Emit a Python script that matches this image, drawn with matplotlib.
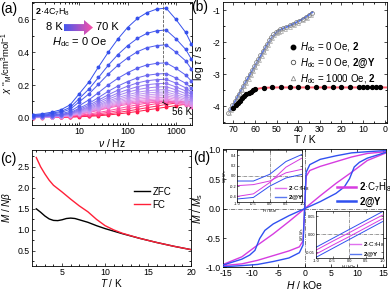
import numpy as np
import matplotlib
matplotlib.use("Agg")
import matplotlib.pyplot as plt
import matplotlib.ticker as mticker
from matplotlib.colors import LinearSegmentedColormap
from matplotlib.patches import Polygon
from matplotlib.lines import Line2D

plt.rcParams['font.family'] = ['Liberation Sans', 'DejaVu Sans']
plt.rcParams['mathtext.fontset'] = 'custom'
plt.rcParams['mathtext.rm'] = 'Liberation Sans'
plt.rcParams['mathtext.it'] = 'Liberation Sans:italic'
plt.rcParams['mathtext.bf'] = 'Liberation Sans:bold'
plt.rcParams['axes.unicode_minus'] = False
plt.rcParams['axes.linewidth'] = 0.6
plt.rcParams['xtick.direction'] = 'in'
plt.rcParams['ytick.direction'] = 'in'
plt.rcParams['xtick.top'] = True
plt.rcParams['ytick.right'] = True
plt.rcParams['xtick.major.size'] = 2.5
plt.rcParams['ytick.major.size'] = 2.5
plt.rcParams['xtick.minor.size'] = 1.5
plt.rcParams['ytick.minor.size'] = 1.5
plt.rcParams['xtick.major.width'] = 0.5
plt.rcParams['ytick.major.width'] = 0.5
plt.rcParams['xtick.labelsize'] = 6.3
plt.rcParams['ytick.labelsize'] = 6.3
plt.rcParams['xtick.major.pad'] = 1.5
plt.rcParams['ytick.major.pad'] = 1.8

# ---- (a) ac out-of-phase susceptibility, 8 K -> 70 K
nu_hz = [1.1, 1.7, 2.7, 4.2, 6.5, 10, 16, 25, 40, 63, 100, 160, 250, 400, 630, 1000, 1600, 2100]
temps_a = [8, 12, 16, 20, 24, 28, 32, 36, 40, 44, 46, 48, 50, 52, 54, 56, 58, 62, 66, 70]
chi_im = [
    [0.020, 0.025, 0.035, 0.050, 0.080, 0.147, 0.220, 0.310, 0.400, 0.480, 0.550, 0.605, 0.640, 0.662, 0.668, 0.600, 0.520, 0.450],
    [0.016, 0.020, 0.028, 0.040, 0.064, 0.118, 0.177, 0.246, 0.321, 0.385, 0.439, 0.484, 0.514, 0.530, 0.535, 0.482, 0.417, 0.358],
    [0.013, 0.016, 0.023, 0.033, 0.053, 0.098, 0.147, 0.205, 0.267, 0.320, 0.365, 0.403, 0.427, 0.440, 0.445, 0.400, 0.347, 0.298],
    [0.010, 0.012, 0.017, 0.025, 0.040, 0.074, 0.111, 0.154, 0.201, 0.241, 0.275, 0.303, 0.322, 0.332, 0.335, 0.302, 0.261, 0.224],
    [0.008, 0.010, 0.014, 0.020, 0.032, 0.059, 0.089, 0.124, 0.162, 0.194, 0.221, 0.244, 0.259, 0.267, 0.270, 0.243, 0.211, 0.181],
    [0.007, 0.009, 0.012, 0.018, 0.028, 0.052, 0.078, 0.108, 0.141, 0.169, 0.193, 0.213, 0.226, 0.233, 0.235, 0.212, 0.183, 0.157],
    [0.006, 0.008, 0.011, 0.016, 0.025, 0.046, 0.069, 0.097, 0.126, 0.151, 0.172, 0.190, 0.202, 0.208, 0.210, 0.189, 0.164, 0.141],
    [0.006, 0.007, 0.010, 0.014, 0.023, 0.042, 0.063, 0.087, 0.114, 0.137, 0.156, 0.172, 0.182, 0.188, 0.190, 0.171, 0.148, 0.127],
    [0.005, 0.006, 0.009, 0.013, 0.021, 0.038, 0.057, 0.079, 0.103, 0.124, 0.141, 0.156, 0.165, 0.170, 0.172, 0.155, 0.134, 0.115],
    [0.005, 0.006, 0.008, 0.012, 0.019, 0.035, 0.052, 0.073, 0.095, 0.114, 0.130, 0.143, 0.152, 0.156, 0.158, 0.142, 0.123, 0.106],
    [0.004, 0.005, 0.008, 0.011, 0.018, 0.032, 0.048, 0.067, 0.088, 0.105, 0.120, 0.132, 0.140, 0.145, 0.146, 0.131, 0.114, 0.098],
    [0.004, 0.005, 0.007, 0.010, 0.016, 0.030, 0.045, 0.062, 0.081, 0.097, 0.111, 0.122, 0.130, 0.134, 0.135, 0.122, 0.105, 0.090],
    [0.004, 0.005, 0.007, 0.009, 0.015, 0.028, 0.041, 0.058, 0.075, 0.090, 0.103, 0.113, 0.120, 0.124, 0.125, 0.113, 0.098, 0.084],
    [0.003, 0.004, 0.006, 0.009, 0.014, 0.026, 0.038, 0.053, 0.070, 0.084, 0.095, 0.105, 0.111, 0.115, 0.116, 0.104, 0.090, 0.078],
    [0.003, 0.004, 0.006, 0.008, 0.013, 0.024, 0.036, 0.050, 0.065, 0.078, 0.089, 0.098, 0.104, 0.107, 0.108, 0.097, 0.084, 0.072],
    [0.003, 0.004, 0.005, 0.008, 0.012, 0.022, 0.033, 0.046, 0.060, 0.072, 0.082, 0.090, 0.096, 0.099, 0.100, 0.090, 0.078, 0.067],
    [0.003, 0.004, 0.005, 0.007, 0.010, 0.016, 0.024, 0.033, 0.044, 0.056, 0.068, 0.080, 0.090, 0.097, 0.100, 0.100, 0.098, 0.095],
    [0.003, 0.003, 0.004, 0.006, 0.008, 0.012, 0.018, 0.025, 0.034, 0.044, 0.055, 0.066, 0.077, 0.087, 0.094, 0.098, 0.099, 0.098],
    [0.002, 0.003, 0.004, 0.005, 0.006, 0.009, 0.013, 0.018, 0.025, 0.033, 0.042, 0.052, 0.062, 0.072, 0.082, 0.090, 0.095, 0.097],
    [0.002, 0.002, 0.003, 0.004, 0.005, 0.007, 0.010, 0.013, 0.018, 0.024, 0.031, 0.039, 0.048, 0.057, 0.066, 0.075, 0.083, 0.088],
]
peak_nu = 530

# ---- (b) relaxation times
T_2 = [70, 69, 68, 67, 66, 65, 64, 63, 62, 61, 60, 56, 52, 48, 44, 40, 36, 32, 28, 24, 20, 16, 12, 10, 8, 6, 4, 2]
logtau_2 = [-4.05, -3.98, -3.90, -3.83, -3.76, -3.70, -3.64, -3.60, -3.55, -3.51, -3.48, -3.43, -3.42, -3.42,
            -3.42, -3.42, -3.42, -3.42, -3.42, -3.42, -3.42, -3.42, -3.42, -3.42, -3.42, -3.42, -3.42, -3.42]
T_fit_2 = [70, 68, 66, 64, 62, 60, 58, 56, 50, 40, 30, 20, 10, -1.2]
logtau_fit_2 = [-4.06, -3.90, -3.76, -3.64, -3.55, -3.48, -3.45, -3.43, -3.42, -3.42, -3.42, -3.42, -3.42, -3.42]
T_Y = [72.5, 71.5, 70.5, 69.5, 68.5, 67.5, 66.5, 65.5, 64.5, 63.5, 62.5, 61.5, 60.5, 59.5, 58.5, 57.5, 56.5,
       55.5, 54.5, 53.5, 52.5, 51.5, 50.5, 49.5, 48.5, 47, 45.5, 44, 42.5, 41, 39.5, 38, 36.5, 35, 33.5]
logtau_Y = [-4.21, -4.09, -3.97, -3.85, -3.73, -3.61, -3.49, -3.37, -3.25, -3.13, -3.00, -2.88, -2.76, -2.64,
            -2.52, -2.40, -2.28, -2.17, -2.05, -1.95, -1.84, -1.76, -1.69, -1.64, -1.60, -1.56, -1.52, -1.48,
            -1.43, -1.38, -1.33, -1.28, -1.22, -1.15, -1.08]
T_1000 = [72, 71, 70, 69, 68, 67, 66, 65, 64, 63, 62, 61, 60, 59, 58, 57, 56, 55, 54, 53, 52, 51, 50, 49, 48,
          46, 44, 42, 40, 38, 36, 34]
logtau_1000 = [-4.22, -4.11, -3.99, -3.87, -3.75, -3.63, -3.51, -3.39, -3.27, -3.15, -3.03, -2.91, -2.79, -2.67,
               -2.55, -2.43, -2.31, -2.20, -2.09, -1.98, -1.88, -1.79, -1.73, -1.68, -1.64, -1.58, -1.53, -1.47,
               -1.40, -1.31, -1.24, -1.15]
T_fit_Y = [71.5, 68, 64, 60, 56, 54, 52, 50, 48, 45, 42, 39, 36, 33.5]
logtau_fit_Y = [-4.14, -3.71, -3.22, -2.75, -2.27, -2.05, -1.84, -1.70, -1.61, -1.52, -1.43, -1.32, -1.20, -1.07]

# ---- (c) ZFC / FC
T_fc = [2, 2.5, 3, 3.5, 4, 5, 6, 7, 8, 9, 10, 11, 12, 14, 16, 18, 20]
M_fc = [2.72, 2.50, 2.33, 2.18, 2.06, 1.90, 1.73, 1.57, 1.43, 1.25, 1.10, 1.00, 0.92, 0.80, 0.70, 0.61, 0.53]
T_zfc = [2, 2.5, 3, 3.5, 4, 4.5, 5, 5.5, 6, 6.5, 7, 8, 9, 10, 11, 12, 14, 16, 18, 20]
M_zfc = [1.50, 1.42, 1.33, 1.26, 1.225, 1.22, 1.24, 1.27, 1.28, 1.27, 1.24, 1.18, 1.10, 1.03, 0.97, 0.91,
         0.80, 0.70, 0.61, 0.53]

# ---- (d) hysteresis
H_s = [-15.6, -12, -9, -6, -3, -1, -0.3, 0, 0.3, 1, 3, 6, 9, 12, 15.6]
M_Y_s = [-0.99, -0.97, -0.95, -0.90, -0.84, -0.75, -0.62, 0.0, 0.62, 0.75, 0.84, 0.90, 0.95, 0.97, 0.99]
M_C_s = [-0.97, -0.94, -0.88, -0.80, -0.72, -0.65, -0.55, 0.0, 0.55, 0.65, 0.72, 0.80, 0.88, 0.94, 0.97]
H_Y_in = [-15.6, -12, -10.5, -9.5, -8.6, -7.6, -6, -3, 0, 3, 6, 7.6, 8.6, 9.5, 10.5, 12, 15.6]
M_Y_in = [-0.96, -0.86, -0.79, -0.71, -0.51, -0.37, -0.26, -0.12, 0.0, 0.12, 0.26, 0.37, 0.51, 0.71, 0.79, 0.86, 0.96]
H_C_in = [-15.6, -12, -9, -6, -3, 0, 3, 6, 9, 12, 15.6]
M_C_in = [-0.95, -0.82, -0.62, -0.43, -0.22, 0.0, 0.22, 0.43, 0.62, 0.82, 0.95]
# insets (low field)
Hi = [-1.0, -0.5, 0.0, 0.5, 1.0]
ins1_Y_up = [-0.10, -0.10, 0.03, 0.28, 0.42]
ins1_Y_lo = [-0.45, -0.42, -0.20, -0.04, 0.03]
ins1_C_up = [-0.19, -0.17, -0.10, 0.06, 0.13]
ins1_C_lo = [-0.40, -0.35, -0.13, 0.17, 0.35]
ins2_Y_up = [-0.037, -0.012, 0.013, 0.038, 0.063]
ins2_Y_lo = [-0.065, -0.040, -0.015, 0.010, 0.035]
ins2_C_up = [-0.045, -0.020, 0.004, 0.029, 0.053]
ins2_C_lo = [-0.056, -0.031, -0.007, 0.018, 0.043]

fig = plt.figure(figsize=(3.9, 2.9), dpi=100)

# ================= (a)
ax = fig.add_axes([0.082, 0.569, 0.410, 0.424])
cmap = LinearSegmentedColormap.from_list('bp', ['#3550ec', '#5a60f0', '#9a7cf2', '#c49cf2',
                                               '#e690e6', '#ff50a8', '#ff1848'])
n = len(chi_im)
for i, row in enumerate(chi_im):
    ax.plot(nu_hz, row, '-o', color=cmap(i / (n - 1)), lw=0.7, ms=1.8, zorder=n - i)
ax.plot([peak_nu, peak_nu], [0.095, 0.705], ls='--', color='0.35', lw=0.6, zorder=30)
ax.set_xscale('log')
ax.set_xlim(1.05, 2150)
ax.set_ylim(-0.043, 0.705)
ax.xaxis.set_major_formatter(mticker.FuncFormatter(lambda v, p: f'{v:g}'))
ax.yaxis.set_major_locator(mticker.MultipleLocator(0.2))
ax.yaxis.set_minor_locator(mticker.MultipleLocator(0.1))
ax.yaxis.set_major_formatter(mticker.FormatStrFormatter('%.1f'))
ax.set_xlabel(r'$\nu$ / Hz', fontsize=7.5, labelpad=0.5)
ax.set_ylabel(r"$\chi$ ''$_{\rm M}$/cm$^3$mol$^{-1}$", fontsize=6.8)
ax.yaxis.set_label_coords(-0.105, 0.5)
ax.text(0.02, 0.92, r'$\mathbf{2}$·4C$_7$H$_8$', transform=ax.transAxes, fontsize=6.5, va='center')
ax.text(0.19, 0.793, '8 K', transform=ax.transAxes, fontsize=8, va='center', ha='right')
ax.text(0.40, 0.793, '70 K', transform=ax.transAxes, fontsize=8, va='center', ha='left')
ax.text(0.30, 0.675, r'$H_{\rm dc}$ = 0 Oe', transform=ax.transAxes, fontsize=8, va='center', ha='center')
ax.annotate('56 K', xy=(peak_nu, 0.095), xytext=(1330, 0.033), fontsize=7, ha='center', va='center',
            arrowprops=dict(arrowstyle='-', color='k', lw=0.6, shrinkA=1, shrinkB=0), zorder=31)

# gradient arrow
axr = fig.add_axes([0.164, 0.879, 0.0745, 0.052])
axr.set_axis_off()
grad = np.linspace(0, 1, 64).reshape(1, -1)
im = axr.imshow(grad, extent=[0, 1, 0, 1], cmap=LinearSegmentedColormap.from_list('ar', ['#4658ee', '#ff50a6']),
                aspect='auto')
poly = Polygon([[0, 0.27], [0.69, 0.27], [0.69, 0.0], [1, 0.5], [0.69, 1.0], [0.69, 0.73], [0, 0.73]],
               closed=True, facecolor='none', edgecolor='none', transform=axr.transData)
axr.add_patch(poly)
im.set_clip_path(poly)
axr.set_xlim(0, 1)
axr.set_ylim(0, 1)

# ================= (b)
ax = fig.add_axes([0.572, 0.576, 0.421, 0.417])
ax.plot(T_fit_2, logtau_fit_2, color='#ff6070', lw=1.4, zorder=2)
ax.plot(T_fit_Y, logtau_fit_Y, color='#5a78ee', lw=1.4, zorder=2)
ax.plot(T_Y, logtau_Y, 'o', mfc='none', mec='0.45', ms=2.8, mew=0.5, zorder=3)
ax.plot(T_1000, logtau_1000, '^', mfc='none', mec='0.65', ms=2.8, mew=0.5, zorder=3)
ax.plot(T_2, logtau_2, 'o', color='k', ms=2.8, zorder=4)
ax.set_xlim(74.8, -1.2)
ax.set_ylim(-4.53, -0.75)
ax.xaxis.set_major_locator(mticker.MultipleLocator(10))
ax.xaxis.set_minor_locator(mticker.MultipleLocator(5))
ax.yaxis.set_major_locator(mticker.MultipleLocator(1))
ax.yaxis.set_minor_locator(mticker.MultipleLocator(0.5))
ax.set_xlabel('T / K', fontsize=7.5, labelpad=1)
ax.set_ylabel(r'log $\tau$ / s', fontsize=7.5)
ax.yaxis.set_label_coords(-0.105, 0.5)
handles = [Line2D([], [], marker='o', ls='none', color='k', ms=3.2),
           Line2D([], [], marker='o', ls='none', mfc='none', mec='0.3', ms=3.2, mew=0.6),
           Line2D([], [], marker='^', ls='none', mfc='none', mec='0.55', ms=3.2, mew=0.6)]
labels = [r'$H_{\rm dc}$ = 0 Oe, $\mathbf{2}$', r'$H_{\rm dc}$ = 0 Oe, $\mathbf{2@Y}$',
          r'$H_{\rm dc}$ = 1000 Oe, $\mathbf{2}$']
ax.legend(handles, labels, loc='upper left', bbox_to_anchor=(0.36, 0.74), frameon=False, fontsize=7,
          handlelength=0.8, handletextpad=0.3, labelspacing=0.25, borderpad=0.2)

# ================= (c)
ax = fig.add_axes([0.082, 0.084, 0.408, 0.399])
ax.plot(T_zfc, M_zfc, color='k', lw=1.0, label='ZFC')
ax.plot(T_fc, M_fc, color='#ff2038', lw=1.0, label='FC')
ax.set_xlim(1.5, 20)
ax.set_ylim(0.15, 2.9)
ax.xaxis.set_major_locator(mticker.MultipleLocator(5))
ax.xaxis.set_minor_locator(mticker.MultipleLocator(1))
ax.yaxis.set_major_locator(mticker.MultipleLocator(0.5))
ax.yaxis.set_minor_locator(mticker.MultipleLocator(0.25))
ax.yaxis.set_major_formatter(mticker.FormatStrFormatter('%.1f'))
ax.set_xlabel(r'$T$ / K', fontsize=7.2, labelpad=0)
ax.set_ylabel(r'$M$ / $N\beta$', fontsize=7.2)
ax.yaxis.set_label_coords(-0.11, 0.5)
ax.legend(loc='upper left', bbox_to_anchor=(0.6, 0.74), frameon=False, fontsize=7, handlelength=1.6,
          handletextpad=0.3, labelspacing=0.3, borderpad=0.2)

# ================= (d)
ax = fig.add_axes([0.572, 0.078, 0.418, 0.407])
c_mag = '#d63ce0'
c_blu = '#3050f0'
ax.axhline(0, color='0.3', lw=0.5, ls='-.', zorder=1)
ax.axvline(0, color='0.3', lw=0.5, ls='-.', zorder=1)
ax.plot(H_C_in, M_C_in, color=c_mag, lw=1.0, zorder=2)
ax.plot(H_s, M_C_s, color=c_mag, lw=1.0, zorder=2, label=r'$\mathbf{2}$·C$_7$H$_8$')
ax.plot(H_Y_in, M_Y_in, color=c_blu, lw=1.0, zorder=3)
ax.plot(H_s, M_Y_s, color=c_blu, lw=1.0, zorder=3, label=r'$\mathbf{2@Y}$')
ax.set_xlim(-15.6, 15.6)
ax.set_ylim(-1.0, 1.01)
ax.xaxis.set_major_locator(mticker.MultipleLocator(5))
ax.yaxis.set_major_locator(mticker.MultipleLocator(0.5))
ax.yaxis.set_major_formatter(mticker.FormatStrFormatter('%.1f'))
ax.set_xlabel(r'$H$ / kOe', fontsize=7.5, labelpad=0.5)
ax.set_ylabel(r'$M$ / $M_{\rm s}$', fontsize=7.5)
ax.yaxis.set_label_coords(-0.11, 0.5)
leg = ax.legend(loc='upper left', bbox_to_anchor=(0.66, 0.79), frameon=False, fontsize=7, handlelength=2.0,
                handletextpad=0.3, labelspacing=0.2, borderpad=0.1)
for l in leg.get_lines():
    l.set_linewidth(1.8)


def small_inset(rect, ylim, yticks, curves, legpos):
    a = fig.add_axes(rect)
    a.axhline(0, color='0.3', lw=0.4, ls='-.')
    a.axvline(0, color='0.3', lw=0.4, ls='-.')
    for ys, col in curves:
        a.plot(Hi, ys, color=col, lw=0.7)
    a.set_xlim(-1.0, 1.0)
    a.set_ylim(*ylim)
    a.set_xticks([-1.0, -0.5, 0.0, 0.5, 1.0])
    a.set_yticks(yticks)
    a.tick_params(labelsize=2.8, length=1.2, pad=0.6, width=0.4)
    a.xaxis.set_major_formatter(mticker.FormatStrFormatter('%.1f'))
    for s in a.spines.values():
        s.set_linewidth(0.5)
    a.set_xlabel(r'$H$ / kOe', fontsize=3, labelpad=0.2)
    a.set_ylabel(r'$M$ / $M_{\rm s}$', fontsize=3, labelpad=0.2)
    hs = [Line2D([], [], color='#e070ee', lw=1.0), Line2D([], [], color='#5a78f0', lw=1.0)]
    a.legend(hs, [r'$\mathbf{2}$·C$_7$H$_8$', r'$\mathbf{2@Y}$'], loc='upper left', bbox_to_anchor=legpos,
             frameon=False, fontsize=4.5, handlelength=1.8, handletextpad=0.3, labelspacing=0.15,
             borderpad=0.1)
    return a


small_inset([0.608, 0.305, 0.167, 0.177], (-0.5, 0.5), [-0.4, -0.2, 0.0, 0.2, 0.4],
            [(ins1_Y_up, c_blu), (ins1_Y_lo, c_blu), (ins1_C_up, c_mag), (ins1_C_lo, c_mag)], (0.52, 0.42))
a2 = small_inset([0.81, 0.11, 0.171, 0.163], (-0.067, 0.065), [-0.05, 0.0, 0.05],
                 [(ins2_Y_up, c_blu), (ins2_Y_lo, c_blu), (ins2_C_up, c_mag), (ins2_C_lo, c_mag)], (0.45, 0.45))
a2.yaxis.set_major_formatter(mticker.FormatStrFormatter('%.2f'))

# panel labels
fig.text(0.0, 0.97, '(a)', fontsize=10, va='center')
fig.text(0.49, 0.975, '(b)', fontsize=10, va='center')
fig.text(0.0, 0.452, '(c)', fontsize=10, va='center')
fig.text(0.495, 0.455, '(d)', fontsize=10, va='center')

fig.savefig('out.png', dpi=100)
